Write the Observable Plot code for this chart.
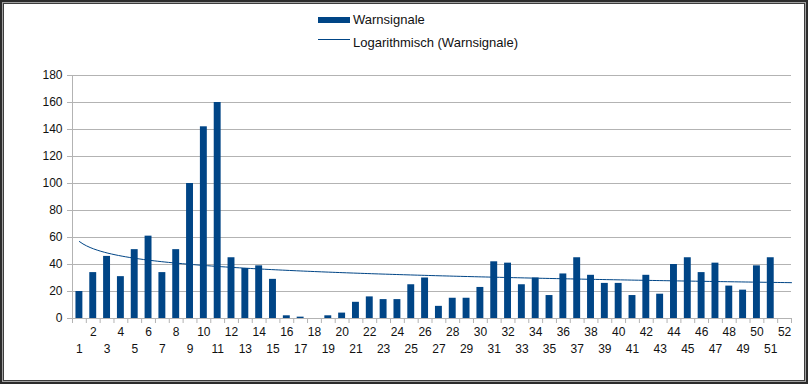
<!DOCTYPE html>
<html>
<head>
<meta charset="utf-8">
<script src="https://cdn.jsdelivr.net/npm/d3@7"></script>
<script src="https://cdn.jsdelivr.net/npm/@observablehq/plot@0.6"></script>
<style>
  html, body { margin: 0; padding: 0; background: #fff; }
  #wrap { position: relative; width: 808px; height: 384px; overflow: hidden; background: #fff;
          font-family: "Liberation Sans", Arial, sans-serif; }
  #frame { position: absolute; left: 0; top: 0; width: 808px; height: 384px; pointer-events: none;
           box-sizing: border-box;
           box-shadow: inset 0 0 0 2px #2b2b2b, inset 0 0 0 3px #a0a0a0, inset 0 0 0 4px #3c3c3c; }
  .leg { position: absolute; font-size: 13px; line-height: 13px; color: #111; white-space: nowrap; }
  .sw { position: absolute; background: #004586; }
</style>
</head>
<body>
<div id="wrap">
  <div id="chart"></div>
  <div class="sw" style="left:318px;top:17px;width:32px;height:6px;"></div>
  <div class="leg" style="left:353px;top:13px;">Warnsignale</div>
  <div class="sw" style="left:318px;top:39px;width:32px;height:1px;"></div>
  <div class="leg" style="left:353px;top:36px;">Logarithmisch (Warnsignale)</div>
  <div id="frame"></div>
</div>
<script>
// Categories (calendar weeks) and values
const weeks = [1,2,3,4,5,6,7,8,9,10,11,12,13,14,15,16,17,18,19,20,21,22,23,24,25,26,
               27,28,29,30,31,32,33,34,35,36,37,38,39,40,41,42,43,44,45,46,47,48,49,50,51,52];
const warnsignale = [20,34,46,31,51,61,34,51,100,142,160,45,37,39,29,2,1,0,2,4,12,16,14,14,25,30,
                     9,15,15,23,42,41,25,30,17,33,45,32,26,26,17,32,18,40,45,34,41,24,21,39,45,null];
const yTicks = [0,20,40,60,80,100,120,140,160,180];

const data = weeks.map((w, i) => ({week: w, value: warnsignale[i]})).filter(d => d.value != null);

// Logarithmic trend line (least squares fit of value = a + b*ln(week))
const lx = data.map(d => Math.log(d.week));
const mx = d3.mean(lx), my = d3.mean(data, d => d.value);
const b = d3.sum(data, (d, i) => (lx[i] - mx) * (d.value - my)) / d3.sum(lx, v => (v - mx) ** 2);
const a = my - b * mx;
const xMax = weeks[weeks.length - 1] + 0.5;
const trend = d3.range(0, 201).map(k => {
  const x = 1 + (xMax - 1) * k / 200;
  return {x, y: a + b * Math.log(x)};
});

const bounds = [0.5, ...weeks.map(w => w + 0.5)];
const gray = "#b3b3b3";

const chart = Plot.plot({
  width: 808,
  height: 384,
  marginLeft: 72,
  marginRight: 17,
  marginTop: 75,
  marginBottom: 66,
  style: {fontFamily: "'Liberation Sans', Arial, sans-serif", fontSize: "12px", background: "transparent", color: "#111"},
  x: {type: "linear", domain: [0.5, xMax], axis: null, label: null},
  y: {domain: [0, 180], axis: null, label: null},
  marks: [
    Plot.ruleY(yTicks, {stroke: gray, strokeWidth: 1}),
    Plot.axisY({ticks: yTicks, tickSize: 5, tickPadding: 5, stroke: gray, strokeOpacity: 1, fill: "#111", fontSize: 12, label: null}),
    Plot.ruleX([0.5], {y1: 0, y2: 180, stroke: gray}),
    Plot.axisX({ticks: bounds, tickSize: 5, tickFormat: () => "", stroke: gray, strokeOpacity: 1, label: null}),
    Plot.rectY(data, {x1: d => d.week - 0.25, x2: d => d.week + 0.25, y: "value", fill: "#004586"}),
    Plot.line(trend, {x: "x", y: "y", stroke: "#004586", strokeWidth: 1}),
    Plot.text(weeks.filter(w => w % 2 === 0), {x: d => d, frameAnchor: "bottom", dy: 17.5, text: d => String(d), fill: "#111", fontSize: 12}),
    Plot.text(weeks.filter(w => w % 2 === 1), {x: d => d, frameAnchor: "bottom", dy: 34, text: d => String(d), fill: "#111", fontSize: 12})
  ]
});
document.getElementById("chart").appendChild(chart);
</script>
</body>
</html>
